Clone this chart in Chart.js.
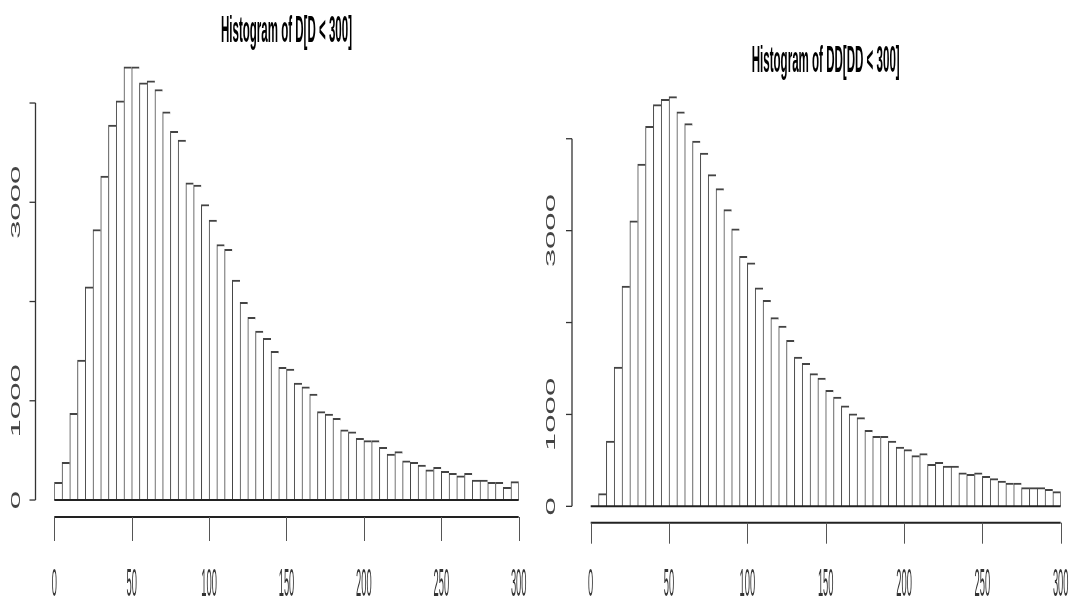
<!DOCTYPE html>
<html>
<head>
<meta charset="utf-8">
<title>Histograms of D and DD</title>
<script src="https://cdn.jsdelivr.net/npm/chart.js@4.4.1/dist/chart.umd.min.js"></script>
<style>
  html, body { margin: 0; padding: 0; background: #fff; width: 1069px; height: 597px; overflow: hidden; }
  .panel { position: absolute; top: 0; }
</style>
</head>
<body>
<div class="panel" style="left:0"><canvas id="histD" width="534" height="597"></canvas></div>
<div class="panel" style="left:534px"><canvas id="histDD" width="535" height="597"></canvas></div>
<script>
// Histogram bins: 60 bins of width 5 covering [0, 300)
const binWidth = 5;
const binStart = [0, 5, 10, 15, 20, 25, 30, 35, 40, 45, 50, 55, 60, 65, 70, 75, 80, 85, 90, 95,
  100, 105, 110, 115, 120, 125, 130, 135, 140, 145, 150, 155, 160, 165, 170, 175, 180, 185, 190, 195,
  200, 205, 210, 215, 220, 225, 230, 235, 240, 245, 250, 255, 260, 265, 270, 275, 280, 285, 290, 295];

// Counts per bin for D[D < 300]
const countsD = [178, 379, 873, 1410, 2148, 2726, 3263, 3777, 4022, 4364,
  4364, 4203, 4223, 4136, 3911, 3716, 3626, 3196, 3172, 2978,
  2820, 2575, 2525, 2216, 1991, 1840, 1702, 1630, 1497, 1336,
  1319, 1178, 1141, 1068, 890, 866, 822, 708, 688, 621,
  598, 598, 530, 463, 487, 396, 379, 352, 305, 329,
  289, 269, 245, 269, 201, 201, 178, 178, 128, 185];

// Counts per bin for DD[DD < 300]
const countsDD = [0, 138, 711, 1516, 2397, 3108, 3725, 4135, 4371, 4429,
  4458, 4294, 4164, 3975, 3845, 3609, 3457, 3228, 3021, 2720,
  2651, 2379, 2241, 2053, 1962, 1806, 1625, 1556, 1444, 1396,
  1262, 1190, 1095, 1008, 965, 827, 762, 762, 711, 646,
  617, 551, 573, 457, 479, 439, 439, 366, 348, 366,
  326, 301, 276, 254, 254, 203, 203, 203, 185, 160];

// Axis ticks and which y labels are printed (the others are dropped to avoid overlap)
const xTicks = [0, 50, 100, 150, 200, 250, 300];
const yTicks = [0, 1000, 2000, 3000, 4000];
const yLabelled = [0, 1000, 3000];

const titleD = 'Histogram of D[D < 300]';
const titleDD = 'Histogram of DD[DD < 300]';

// Draw text at (x, baselineY) horizontally squeezed to a target width
function squeezedText(ctx, text, cx, baseY, font, targetW) {
  ctx.save();
  ctx.font = font;
  const w = ctx.measureText(text).width;
  const sx = targetW / w;
  ctx.translate(cx, baseY);
  ctx.scale(sx, 1);
  ctx.textAlign = 'center';
  ctx.textBaseline = 'alphabetic';
  ctx.fillText(text, 0, 0);
  ctx.restore();
}

// Base-graphics style frame: offset axes, rotated y labels, title
function baseFrame(title, fr) {
  return {
    id: 'baseFrame',
    afterDraw(chart) {
      const ctx = chart.ctx;
      const xs = chart.scales.x, ys = chart.scales.y;
      const area = chart.chartArea;
      ctx.save();

      // baseline under the bars
      const y0 = ys.getPixelForValue(0);
      ctx.strokeStyle = '#222';
      ctx.lineWidth = 2;
      ctx.beginPath();
      ctx.moveTo(xs.getPixelForValue(0), y0);
      ctx.lineTo(xs.getPixelForValue(300), y0);
      ctx.stroke();

      // x axis line and tick marks
      const ax = area.bottom;
      ctx.beginPath();
      ctx.moveTo(xs.getPixelForValue(xTicks[0]), ax);
      ctx.lineTo(xs.getPixelForValue(xTicks[xTicks.length - 1]), ax);
      ctx.stroke();
      ctx.strokeStyle = '#555';
      ctx.lineWidth = 1;
      for (const t of xTicks) {
        const px = Math.round(xs.getPixelForValue(t)) + 0.5;
        ctx.beginPath();
        ctx.moveTo(px, ax);
        ctx.lineTo(px, ax + fr.xTickLen);
        ctx.stroke();
      }
      // x tick labels
      ctx.fillStyle = '#333';
      for (const t of xTicks) {
        const s = String(t);
        squeezedText(ctx, s, xs.getPixelForValue(t), fr.xLabelBase, '39px "Liberation Sans", Arial, sans-serif', fr.xDigitW * s.length);
      }

      // y axis line and ticks
      ctx.strokeStyle = '#333';
      ctx.lineWidth = 1.3;
      ctx.beginPath();
      ctx.moveTo(fr.yAxisX, ys.getPixelForValue(yTicks[0]));
      ctx.lineTo(fr.yAxisX, ys.getPixelForValue(yTicks[yTicks.length - 1]));
      ctx.stroke();
      for (const t of yTicks) {
        const py = ys.getPixelForValue(t);
        ctx.beginPath();
        ctx.moveTo(fr.yAxisX - fr.yTickLen, py);
        ctx.lineTo(fr.yAxisX, py);
        ctx.stroke();
      }
      // y tick labels, rotated to read bottom-to-top
      ctx.fillStyle = '#444';
      ctx.font = '33px "Liberation Sans", Arial, sans-serif';
      const capH = 33 * 0.716;
      for (const t of yLabelled) {
        const py = ys.getPixelForValue(t);
        ctx.save();
        ctx.translate(fr.yLabelX + capH * fr.yLabelSy / 2, py);
        ctx.rotate(-Math.PI / 2);
        ctx.scale(1, fr.yLabelSy);
        ctx.textAlign = 'center';
        ctx.textBaseline = 'alphabetic';
        ctx.fillText(String(t), 0, 0);
        ctx.restore();
      }

      // title
      ctx.fillStyle = '#000';
      squeezedText(ctx, title, (area.left + area.right) / 2, fr.titleBase, 'bold 36px "Liberation Sans", Arial, sans-serif', fr.titleW);

      ctx.restore();
    }
  };
}

function histogram(canvasId, title, counts, fr) {
  const last = binStart.length - 1;
  return new Chart(document.getElementById(canvasId), {
    type: 'bar',
    data: {
      datasets: [{
        data: binStart.map((s, i) => ({ x: s + binWidth / 2, y: counts[i] })),
        backgroundColor: '#ffffff',
        borderColor: '#444',
        borderWidth: c => ({ top: 2, left: 1, right: c.dataIndex === last ? 1 : 0, bottom: 0 }),
        borderSkipped: 'start',
        barPercentage: 1,
        categoryPercentage: 1
      }]
    },
    options: {
      responsive: false,
      animation: false,
      events: [],
      layout: { padding: fr.padding },
      plugins: { legend: { display: false }, tooltip: { enabled: false }, title: { display: false } },
      scales: {
        x: { type: 'linear', min: 0, max: 300, offset: false, display: false },
        y: { type: 'linear', min: fr.yMin, max: fr.yMax, display: false }
      }
    },
    plugins: [baseFrame(title, fr)]
  });
}

histogram('histD', titleD, countsD, {
  padding: { left: 54.3, right: 15.3, top: 53.4, bottom: 80 },
  yMin: -171, yMax: 4500,
  xTickLen: 24, xLabelBase: 596, xDigitW: 5.2,
  yAxisX: 35.5, yTickLen: 6, yLabelX: 15, yLabelSy: 0.4,
  titleBase: 41.7, titleW: 131
});

histogram('histDD', titleDD, countsDD, {
  padding: { left: 56.7, right: 8.3, top: 83.6, bottom: 74.3 },
  yMin: -178, yMax: 4600,
  xTickLen: 21, xLabelBase: 596, xDigitW: 5.2,
  yAxisX: 38, yTickLen: 6, yLabelX: 16.5, yLabelSy: 0.4,
  titleBase: 71.7, titleW: 148
});
</script>
</body>
</html>
